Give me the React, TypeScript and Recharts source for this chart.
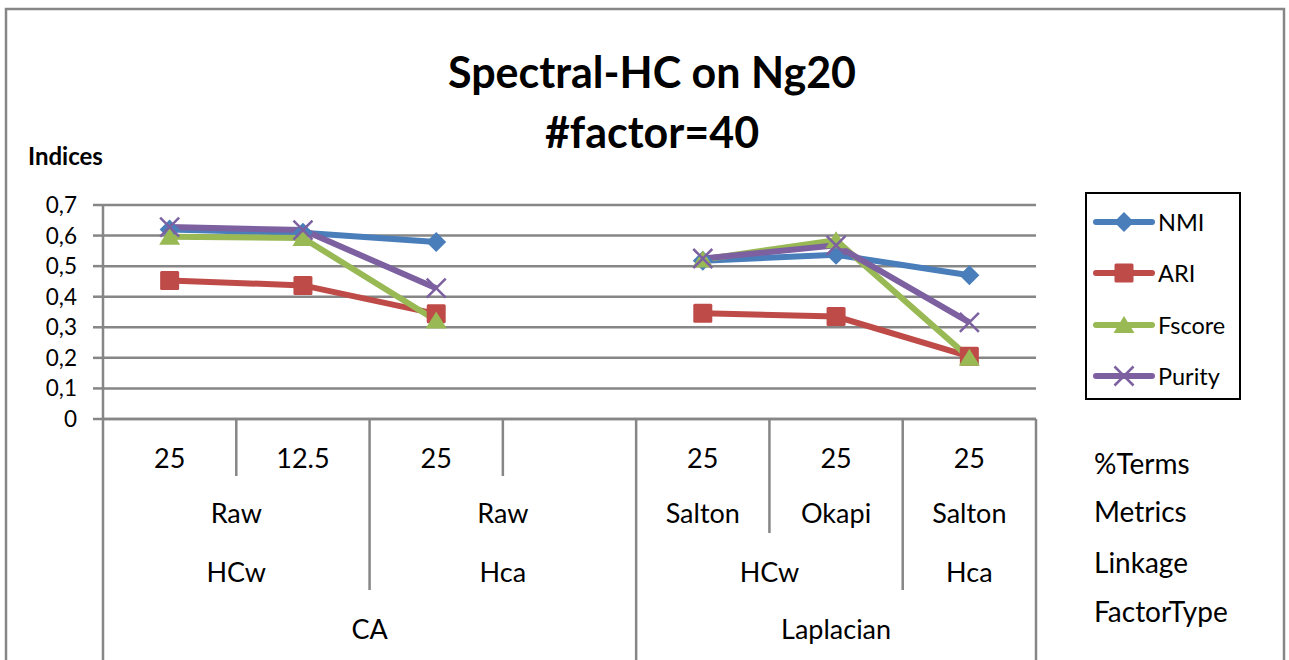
import { CartesianGrid, ComposedChart, Legend, Line, XAxis, YAxis } from 'recharts'

// category levels, innermost first
const terms = ['25', '12.5', '25', '', '25', '25', '25']
const metrics = ['Raw', 'Raw', 'Raw', 'Raw', 'Salton', 'Okapi', 'Salton']
const linkage = ['HCw', 'HCw', 'Hca', 'Hca', 'HCw', 'HCw', 'Hca']
const factorType = ['CA', 'CA', 'CA', 'CA', 'Laplacian', 'Laplacian', 'Laplacian']
const levelNames = ['%Terms', 'Metrics', 'Linkage', 'FactorType']

const nmi = [0.62, 0.609, 0.579, null, 0.518, 0.537, 0.47]
const ari = [0.453, 0.437, 0.344, null, 0.346, 0.335, 0.205]
const fscore = [0.596, 0.592, 0.322, null, 0.522, 0.585, 0.2]
const purity = [0.628, 0.618, 0.428, null, 0.525, 0.568, 0.316]

const yTicks = [0, 0.1, 0.2, 0.3, 0.4, 0.5, 0.6, 0.7]

const W = 1289
const H = 660
const margin = { top: 205, right: 253, bottom: 0, left: 0 }
const Y_AXIS_W = 103
const X_AXIS_H = 241
const GRAY = '#868686'
const FONT = 'Lato, "Liberation Sans", sans-serif'

const levels = [terms, metrics, linkage, factorType]

const series = [
  { key: 'NMI', color: '#4A7EBB', shape: 'diamond' },
  { key: 'ARI', color: '#BE4B48', shape: 'square' },
  { key: 'Fscore', color: '#98B954', shape: 'triangle' },
  { key: 'Purity', color: '#7D60A0', shape: 'cross' },
]

const data = terms.map((_, i) => ({
  id: String(i),
  NMI: nmi[i],
  ARI: ari[i],
  Fscore: fscore[i],
  Purity: purity[i],
}))

const plotBottom = H - margin.bottom - X_AXIS_H
const band = (W - margin.left - margin.right - Y_AXIS_W) / terms.length

// separator depth for each level of break, and row centres (relative to the axis)
const lineDepth = [0, 57, 114, 171, X_AXIS_H]
const rowY = [40, 95, 154, 211]
const nameY = [45, 93, 144, 193]

// highest level at which category i differs from i-1 (4 = outer edge)
const breakLevel = (i: number) => {
  if (i <= 0 || i >= terms.length) return 4
  for (let l = levels.length - 1; l >= 0; l--) {
    if (levels[l][i] !== levels[l][i - 1]) return l + 1
  }
  return 0
}

const Marker = ({ shape, cx, cy, color }: { shape: string; cx: number; cy: number; color: string }) => {
  if (shape === 'diamond') {
    const r = 10
    return <polygon points={`${cx},${cy - r} ${cx + r},${cy} ${cx},${cy + r} ${cx - r},${cy}`} fill={color} />
  }
  if (shape === 'square') {
    return <rect x={cx - 9.5} y={cy - 9.5} width={19} height={19} rx={1.5} fill={color} />
  }
  if (shape === 'triangle') {
    return <polygon points={`${cx},${cy - 9} ${cx + 10.5},${cy + 8} ${cx - 10.5},${cy + 8}`} fill={color} />
  }
  const r = 9.5
  return (
    <g stroke={color} strokeWidth={2.5}>
      <line x1={cx - r} y1={cy - r} x2={cx + r} y2={cy + r} />
      <line x1={cx - r} y1={cy + r} x2={cx + r} y2={cy - r} />
    </g>
  )
}

const CategoryTick = (props: any) => {
  const { x, payload } = props
  const i = payload.index
  const left = x - band / 2
  const right = x + band / 2
  const labels = []
  for (let l = 0; l < levels.length; l++) {
    if (breakLevel(i) <= l) continue
    let j = i + 1
    while (breakLevel(j) <= l) j++
    labels.push(
      <text
        key={`l${l}`}
        x={left + ((j - i) * band) / 2}
        y={plotBottom + rowY[l]}
        dy="0.35em"
        textAnchor="middle"
        fontSize={27}
        fontFamily={FONT}
        fill="#000"
      >
        {levels[l][i]}
      </text>
    )
  }
  const last = i === terms.length - 1
  return (
    <g>
      <line x1={left} y1={plotBottom} x2={left} y2={plotBottom + lineDepth[breakLevel(i)]} stroke={GRAY} strokeWidth={2.5} />
      {last && <line x1={right} y1={plotBottom} x2={right} y2={plotBottom + lineDepth[4]} stroke={GRAY} strokeWidth={2.5} />}
      {labels}
      {last &&
        levelNames.map((name, l) => (
          <text key={name} x={right + 58} y={plotBottom + nameY[l]} dy="0.35em" fontSize={28} fontFamily={FONT} fill="#000">
            {name}
          </text>
        ))}
    </g>
  )
}

const seriesOrder = (name: string) => series.findIndex((s) => s.key === name)

const renderLegend = ({ payload }: any) => (
  <div
    style={{
      width: 156,
      height: 208,
      boxSizing: 'border-box',
      border: '2px solid #000',
      paddingTop: 2,
      background: '#fff',
      fontFamily: FONT,
      fontSize: 23.5,
    }}
  >
    {[...(payload || [])]
      .sort((a: any, b: any) => seriesOrder(a.value) - seriesOrder(b.value))
      .map((entry: any) => {
        const s = series[seriesOrder(entry.value)] || series[0]
        return (
          <div key={entry.value} style={{ display: 'flex', alignItems: 'center', height: 51.5 }}>
            <svg width={62} height={24} style={{ marginLeft: 6 }}>
              <line x1={3} y1={12} x2={59} y2={12} stroke={s.color} strokeWidth={6} strokeLinecap="round" />
              <Marker shape={s.shape} cx={31} cy={12} color={s.color} />
            </svg>
            <span style={{ marginLeft: 3 }}>{entry.value}</span>
          </div>
        )
      })}
  </div>
)

export default function App() {
  return (
    <div style={{ position: 'absolute', left: 0, top: 0, width: W, height: H, background: '#fff', overflow: 'hidden' }}>
      <ComposedChart width={W} height={H} data={data} margin={margin}>
        <CartesianGrid vertical={false} stroke={GRAY} strokeWidth={2.5} />
        <XAxis
          dataKey="id"
          height={X_AXIS_H}
          interval={0}
          padding={{ left: band / 2, right: band / 2 }}
          tickLine={false}
          axisLine={{ stroke: GRAY, strokeWidth: 2.5 }}
          tick={<CategoryTick />}
        />
        <YAxis
          width={Y_AXIS_W}
          domain={[0, 0.7]}
          ticks={yTicks}
          interval={0}
          tickSize={10}
          tickMargin={16}
          tickLine={{ stroke: GRAY, strokeWidth: 2.5 }}
          axisLine={{ stroke: GRAY, strokeWidth: 2.5 }}
          tickFormatter={(v: number) => String(v).replace('.', ',')}
          tick={{ fontSize: 22.5, fill: '#000', fontFamily: FONT }}
        />
        <Legend
          layout="vertical"
          align="center"
          verticalAlign="middle"
          wrapperStyle={{ left: 1085, top: 192, width: 156, height: 208 }}
          content={renderLegend}
        />
        {series.map((s) => (
          <Line
            key={s.key}
            dataKey={s.key}
            name={s.key}
            stroke={s.color}
            strokeWidth={6}
            isAnimationActive={false}
            dot={(p: any) =>
              p.cx == null || p.cy == null || p.value == null ? (
                <g key={`${s.key}-${p.index}`} />
              ) : (
                <Marker key={`${s.key}-${p.index}`} shape={s.shape} cx={p.cx} cy={p.cy} color={s.color} />
              )
            }
            activeDot={false}
          />
        ))}
      </ComposedChart>
      <svg width={W} height={H} style={{ position: 'absolute', left: 0, top: 0, pointerEvents: 'none' }}>
        <rect x={6} y={9} width={1278} height={720} fill="none" stroke={GRAY} strokeWidth={2.5} />
        <text x={652} y={88} textAnchor="middle" fontSize={43} fontWeight="bold" fontFamily={FONT} fill="#000">
          Spectral-HC on Ng20
        </text>
        <text x={652} y={148} textAnchor="middle" fontSize={43} fontWeight="bold" fontFamily={FONT} fill="#000">
          #factor=40
        </text>
        <text x={28} y={165} fontSize={24} fontWeight="bold" fontFamily={FONT} fill="#000">
          Indices
        </text>
      </svg>
    </div>
  )
}
